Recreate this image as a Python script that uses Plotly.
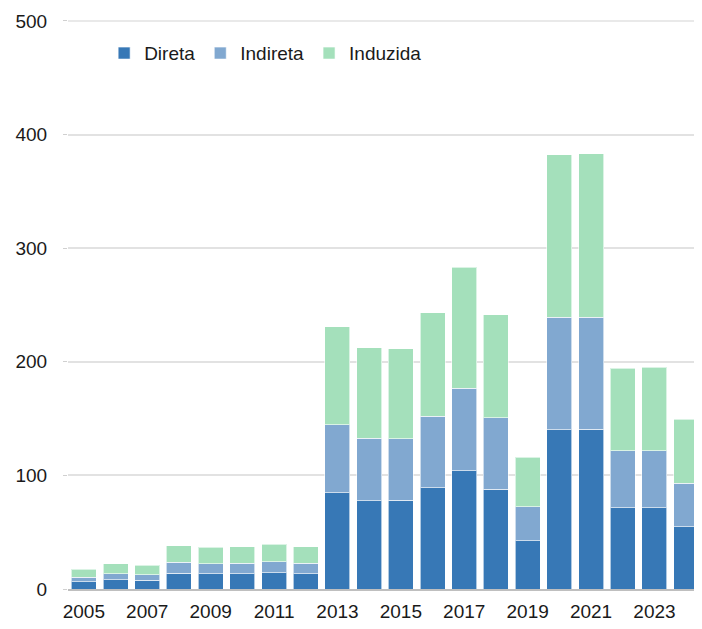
import plotly.graph_objects as go

years = list(range(2005, 2025))
direta = [6.4, 8.2, 7.9, 13.8, 13.5, 13.5, 14.4, 13.5, 84.7, 77.7, 78.0, 89.1, 104.0, 88.0, 42.5, 140.0, 140.6, 71.6, 71.6, 54.9]
indireta = [3.9, 5.3, 4.7, 9.7, 8.8, 9.1, 9.7, 9.1, 59.7, 55.1, 54.1, 62.9, 72.9, 62.8, 30.0, 99.4, 98.8, 49.9, 50.1, 38.1]
induzida = [7.0, 8.8, 8.5, 14.6, 14.4, 14.4, 15.2, 14.4, 86.5, 79.6, 79.4, 91.0, 106.1, 90.7, 43.5, 142.6, 143.6, 72.8, 73.4, 56.4]
series_names = ["Direta", "Indireta", "Induzida"]
colors = ["#3778b6", "#81a8d0", "#a4e0bb"]
xtick_vals = list(range(2005, 2025, 2))
ytick_vals = [0, 100, 200, 300, 400, 500]

fig = go.Figure()
for name, vals, col in zip(series_names, [direta, indireta, induzida], colors):
    fig.add_trace(go.Bar(
        x=years, y=vals, name=name,
        marker=dict(color=col, line=dict(color="rgba(255,255,255,0.6)", width=1)),
    ))

font = "Liberation Sans, Arial, sans-serif"
fig.update_layout(
    barmode="stack",
    bargap=0.21,
    width=702, height=629,
    margin=dict(l=60, r=8, t=12, b=48, autoexpand=False),
    plot_bgcolor="white", paper_bgcolor="white",
    font=dict(family=font, size=19, color="#1a1a1a"),
    showlegend=True,
    legend=dict(orientation="h", x=0.057, y=0.975, xanchor="left", yanchor="top",
                font=dict(size=19, family=font), bgcolor="rgba(0,0,0,0)",
                traceorder="normal", itemwidth=30),
    xaxis=dict(range=[2004.5, 2024.5], tickvals=xtick_vals, ticktext=[str(v) for v in xtick_vals],
               showgrid=False, showline=True, linecolor="#bfbfbf", linewidth=1.5,
               ticks="", tickfont=dict(size=19), zeroline=False, ticklabelstandoff=4,
               automargin=False),
    yaxis=dict(range=[0, 500.8], tickvals=ytick_vals, showgrid=True, gridcolor="#e2e2e2", gridwidth=1.5,
               showline=False, ticks="outside", ticklen=4, tickcolor="#d0d0d0",
               tickfont=dict(size=19), zeroline=False, ticklabelstandoff=12,
               automargin=False),
)
# top gridline (at the highest tick) drawn explicitly so it is not lost at the plot edge
fig.add_shape(type="line", xref="paper", yref="y", x0=0, x1=1,
              y0=ytick_vals[-1], y1=ytick_vals[-1],
              line=dict(color="#e2e2e2", width=1.5), layer="below")
fig.write_html("out.html")
